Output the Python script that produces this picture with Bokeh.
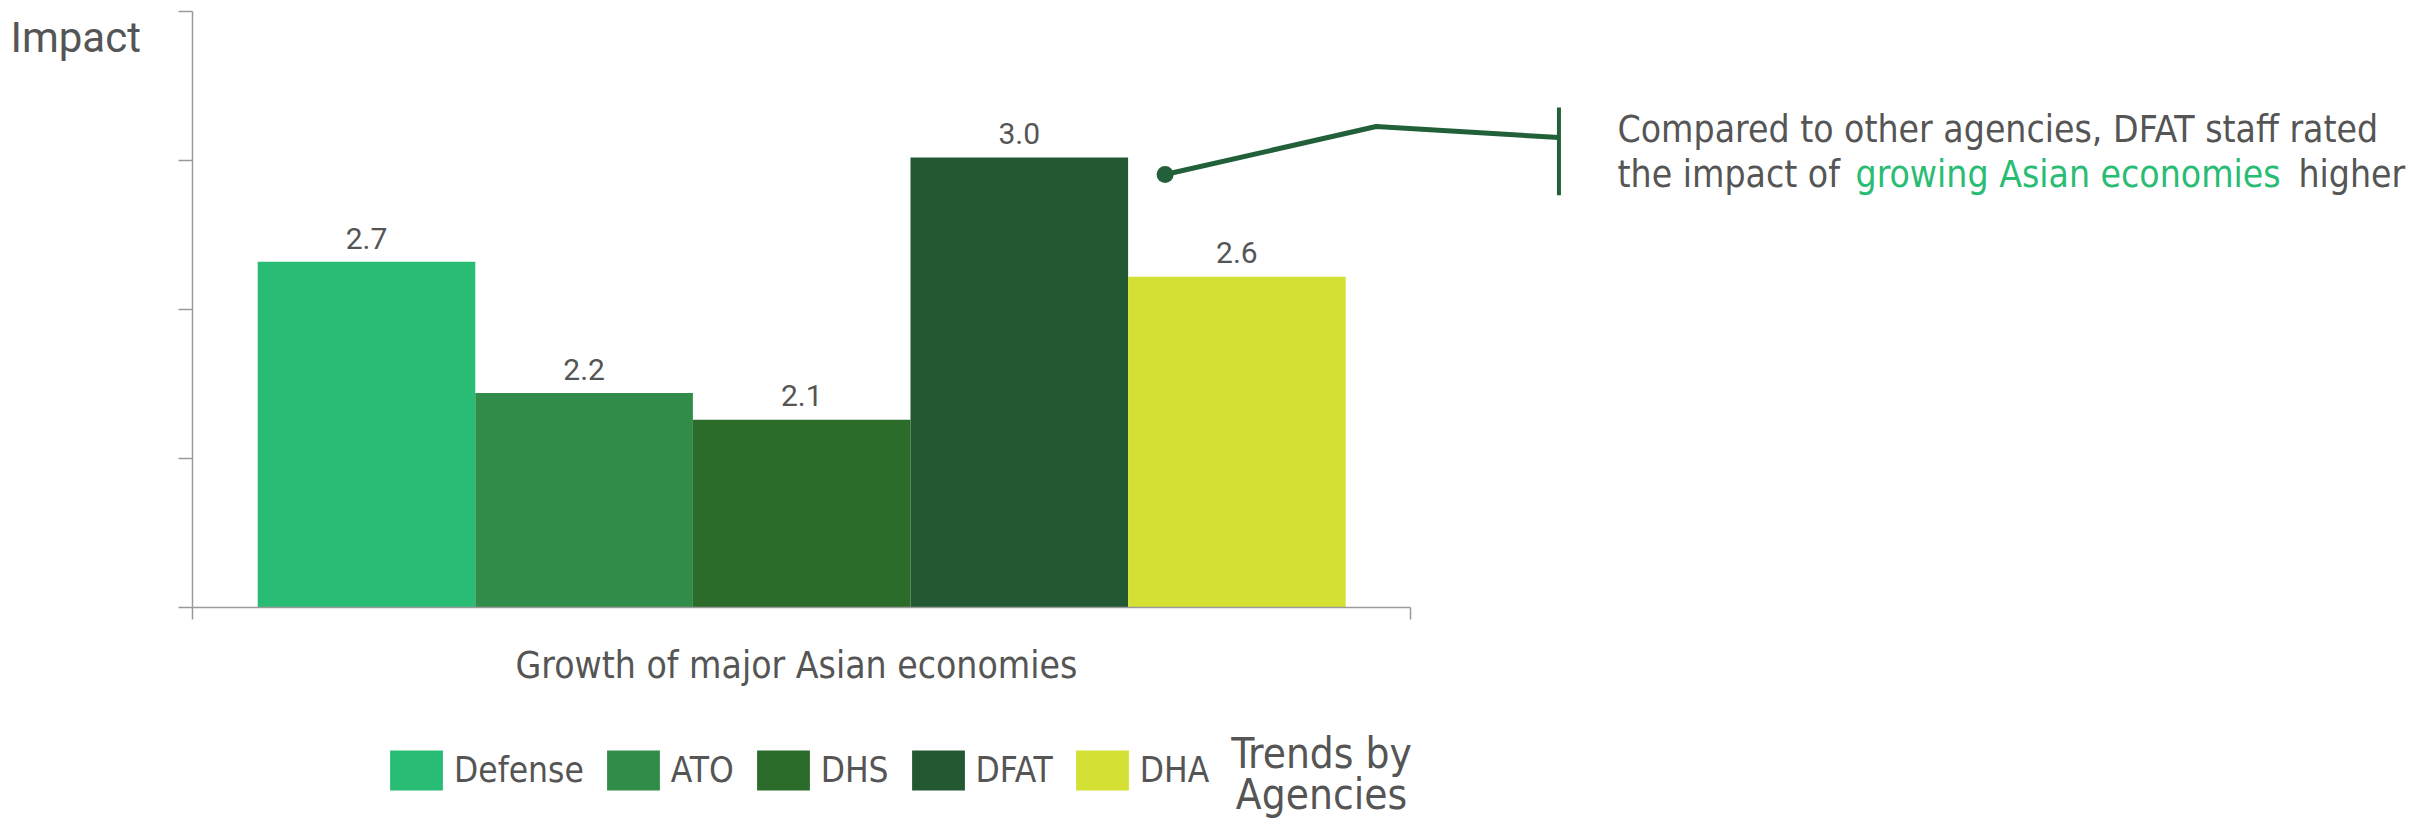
from bokeh.plotting import figure
from bokeh.models import Label, Legend, LegendItem, FixedTicker, Range1d, ColumnDataSource
from bokeh.core.properties import value
from bokeh.embed import file_html
from bokeh.resources import INLINE

# ---------------- data ----------------
category = "Growth of major Asian  economies"
agencies = ["Defense", "ATO", "DHS", "DFAT", "DHA"]
impact = [2.66, 2.22, 2.13, 3.01, 2.61]
colors = ["#29BC74", "#308C48", "#2B6C2B", "#225933", "#D4E034"]
y_ticks = [1.5, 2.0, 2.5, 3.0, 3.5]
y_title = "Impact"
legend_title = ["Trends by", "Agencies"]
note_line1 = "Compared to other agencies, DFAT staff rated"
note_line2 = ["the impact of", "growing Asian economies", "higher"]
note_target = "DFAT"

# ---------------- layout / style ----------------
W, H = 2433, 821
axis_px_x, bar0_px_x = 192, 366          # page x of y-axis and of first bar centre
px_per_x = 217.6                         # pixels per bar slot
y_top_px, y_bot_px = 11, 607             # page y of top / bottom of the value axis
px_per_y = (y_bot_px - y_top_px) / (y_ticks[-1] - y_ticks[0])

x_start = -bar0_px_x / px_per_x
x_end = x_start + W / px_per_x
axis_x = (axis_px_x - bar0_px_x) / px_per_x
axis_x_end = len(agencies) - 1 - axis_x
y_start = y_ticks[0] - (H - y_bot_px) / px_per_y
y_end = y_ticks[-1] + y_top_px / px_per_y

GRAY = "#555555"
AXIS = "#9a9a9a"
NOTE_GREEN = "#22603A"
HILITE = "#29BC74"
FONT = "DejaVu Sans Condensed, DejaVu Sans"
NUMFONT = "Roboto"
SHIFT = 0.36   # baseline correction, in em


def base_y(page_y, size):
    """screen y (from bottom) that puts a text's baseline at page_y"""
    return H - (page_y - SHIFT * size)


p = figure(width=W, height=H, output_backend="svg", toolbar_location=None,
           x_range=Range1d(x_start, x_end), y_range=Range1d(y_start, y_end),
           min_border=0)
p.outline_line_color = None
p.grid.visible = False
p.background_fill_color = "white"
p.border_fill_color = "white"

# y axis
ya = p.yaxis[0]
ya.fixed_location = axis_x
ya.bounds = (y_ticks[0], y_ticks[-1])
ya.ticker = FixedTicker(ticks=y_ticks)
ya.major_label_overrides = {t: "" for t in y_ticks}
ya.minor_tick_line_color = None
ya.major_tick_in = 0
ya.major_tick_out = 14
ya.axis_line_color = AXIS
ya.major_tick_line_color = AXIS
ya.axis_line_width = 1.5
ya.major_tick_line_width = 1.5

# x axis
xa = p.xaxis[0]
xa.fixed_location = y_ticks[0]
xa.bounds = (axis_x, axis_x_end)
xa.ticker = FixedTicker(ticks=[axis_x, axis_x_end])
xa.major_label_overrides = {axis_x: "", axis_x_end: ""}
xa.minor_tick_line_color = None
xa.major_tick_in = 0
xa.major_tick_out = 12
xa.axis_line_color = AXIS
xa.major_tick_line_color = AXIS
xa.axis_line_width = 1.5
xa.major_tick_line_width = 1.5

# bars
idx = list(range(len(agencies)))
src = ColumnDataSource(dict(x=idx, top=impact, color=colors, agency=agencies,
                            label=[f"{v:.1f}" for v in impact]))
bars = p.vbar(x="x", top="top", bottom=y_ticks[0], width=1.0, fill_color="color",
              line_color=None, source=src)
p.text(x="x", y="top", text="label", source=src, y_offset=-13 - SHIFT * 30,
       text_align="center", text_baseline="alphabetic",
       text_font=value(NUMFONT), text_font_size="30px", text_color=GRAY)

# y title
p.add_layout(Label(x=10, y=base_y(52, 42), x_units="screen", y_units="screen",
                   text=y_title, text_font=NUMFONT, text_font_size="42px",
                   text_color=GRAY, text_baseline="alphabetic"))

# x category label
p.add_layout(Label(x=sum(idx) / len(idx), y=base_y(678, 37), y_units="screen", text=category,
                   text_font=FONT, text_font_size="37px", text_color=GRAY,
                   text_align="center", text_baseline="alphabetic"))

# legend
legend = Legend(items=[LegendItem(label=a, renderers=[bars], index=i) for i, a in enumerate(agencies)],
                orientation="horizontal", location=(383, H - 795), padding=0, margin=0,
                glyph_width=66, glyph_height=50, label_standoff=5, spacing=16,
                label_text_font=FONT, label_text_font_size="35px", label_text_color=GRAY,
                border_line_color=None, background_fill_alpha=0)
p.add_layout(legend, "center")
for t, base in zip(legend_title, [768, 809]):
    p.add_layout(Label(x=1321, y=base_y(base, 42), x_units="screen", y_units="screen",
                       text=t, text_font=FONT, text_font_size="42px", text_color=GRAY,
                       text_align="center", text_baseline="alphabetic"))

# callout pointing at DFAT bar
ti = agencies.index(note_target)
tv = impact[ti]
cx = [ti + 0.67, ti + 1.64, ti + 2.48]
cy = [tv - 0.057, tv + 0.104, tv + 0.067]
p.line(cx, cy, line_color=NOTE_GREEN, line_width=5)
p.scatter([cx[0]], [cy[0]], size=17, fill_color=NOTE_GREEN, line_color=None)
p.segment(x0=[cx[2]], y0=[tv - 0.127], x1=[cx[2]], y1=[tv + 0.168],
          line_color=NOTE_GREEN, line_width=4)

p.add_layout(Label(x=1617, y=base_y(142, 37), x_units="screen", y_units="screen", text=note_line1,
                   text_font=FONT, text_font_size="37px", text_color=GRAY,
                   text_baseline="alphabetic"))
seg_x = [1617, 1855, 2298]
seg_c = [GRAY, HILITE, GRAY]
for sx, t, c in zip(seg_x, note_line2, seg_c):
    p.add_layout(Label(x=sx, y=base_y(187, 37), x_units="screen", y_units="screen", text=t,
                       text_font=FONT, text_font_size="37px", text_color=c,
                       text_baseline="alphabetic"))

open("out.html", "w").write(file_html(p, INLINE))
